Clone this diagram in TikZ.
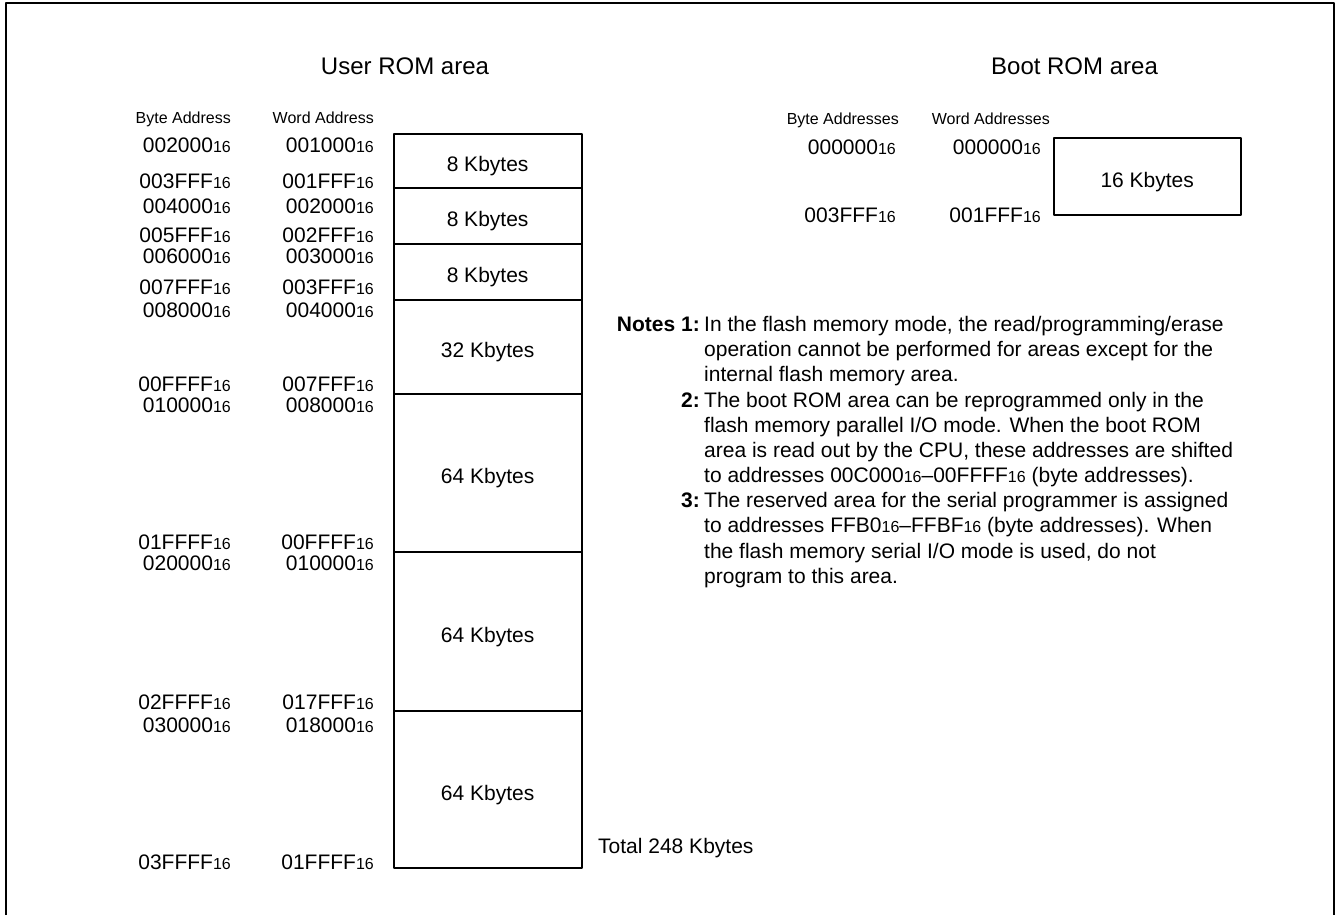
\documentclass[tikz,border=0pt]{standalone}
\usepackage{fontspec}
\setmainfont{Liberation Sans}
\usetikzlibrary{positioning}
\newcommand{\hexa}[1]{#1{\fontsize{16}{16}\selectfont 16}}
\tikzset{
	blk/.style={draw, line width=2pt, minimum width=188pt, inner sep=0pt, outer sep=0pt,
		text height=22pt, text depth=0pt, font=\fontsize{21}{21}\selectfont},
	adr/.style={anchor=base east, inner sep=0pt, font=\fontsize{21}{21}\selectfont},
	hdr/.style={anchor=base east, inner sep=0pt, font=\fontsize{16}{16}\selectfont},
	ttl/.style={anchor=base, inner sep=0pt, font=\fontsize{24}{24}\selectfont},
	note/.style={anchor=base west, inner sep=0pt, font=\fontsize{21}{21}\selectfont},
	num/.style={anchor=base east, inner sep=0pt, font=\fontsize{21}{21}\selectfont\bfseries},
}
\begin{document}
\begin{tikzpicture}[x=1pt, y=-1pt, line join=round]
	\useasboundingbox (0,0) rectangle (1337,915);
	\draw[line width=2pt] (6,915) -- (6,3.5) -- (1334,3.5) -- (1334,915);
	% user ROM area
	\node[ttl] (usrtitle) at (405,74.3) {User ROM area};
	\node[hdr] (usrbyte) at (231,123.7) {Byte Address};
	\node[hdr] (usrword) at (374,123.7) {Word Address};
	\node[blk, minimum height=53.5pt, anchor=north] (b1) at (487.6,134) {8 Kbytes};
	\node[blk, minimum height=56pt, below=0pt of b1] (b2) {8 Kbytes};
	\node[blk, minimum height=56pt, below=0pt of b2] (b3) {8 Kbytes};
	\node[blk, minimum height=94pt, below=0pt of b3] (b4) {32 Kbytes};
	\node[blk, minimum height=158.5pt, below=0pt of b4] (b5) {64 Kbytes};
	\node[blk, minimum height=159pt, below=0pt of b5] (b6) {64 Kbytes};
	\node[blk, minimum height=157pt, below=0pt of b6] (b7) {64 Kbytes};
	\foreach \y/\b/\w [count=\i] in {152.5/002000/001000, 188.5/003FFF/001FFF,
			213.5/004000/002000, 242.5/005FFF/002FFF, 263.5/006000/003000,
			294.5/007FFF/003FFF, 317.5/008000/004000, 391.5/00FFFF/007FFF,
			412.5/010000/008000, 549.5/01FFFF/00FFFF, 570.5/020000/010000,
			709.5/02FFFF/017FFF, 732.5/030000/018000, 869.5/03FFFF/01FFFF} {
		\node[adr] (ba\i) at (231,\y) {\hexa{\b}};
		\node[adr] (wa\i) at (374,\y) {\hexa{\w}};
	}
	\node[note] (total) at (598,853.2) {Total 248 Kbytes};
	% boot ROM area
	\node[ttl] (boottitle) at (1074.5,74.3) {Boot ROM area};
	\node[hdr] (bootbyte) at (899,124.7) {Byte Addresses};
	\node[hdr] (bootword) at (1050,124.7) {Word Addresses};
	\node[blk, minimum width=187pt, minimum height=76.7pt] (bootblk) at (1147.2,176.7) {16 Kbytes};
	\node[adr] (bb1) at (896,154.5) {\hexa{000000}};
	\node[adr] (bw1) at (1041,154.5) {\hexa{000000}};
	\node[adr] (bb2) at (896,222.5) {\hexa{003FFF}};
	\node[adr] (bw2) at (1041,222.5) {\hexa{001FFF}};
	% notes
	\node[num] (n1) at (700,331.5) {Notes 1:};
	\node[num] (n2) at (700,407) {2:};
	\node[num] (n3) at (700,507.7) {3:};
	\foreach \t [count=\i from 0] in {
			{In the flash memory mode, the read/programming/erase},
			{operation cannot be performed for areas except for the},
			{internal flash memory area.},
			{The boot ROM area can be reprogrammed only in the},
			{flash memory parallel I/O mode. When the boot ROM},
			{area is read out by the CPU, these addresses are shifted},
			{to addresses \hexa{00C000}--\hexa{00FFFF} (byte addresses).},
			{The reserved area for the serial programmer is assigned},
			{to addresses \hexa{FFB0}--\hexa{FFBF} (byte addresses). When},
			{the flash memory serial I/O mode is used, do not},
			{program to this area.}} {
		\node[note] (line\i) at (704,{331.5+25.17*\i}) {\t};
	}
\end{tikzpicture}
\end{document}
